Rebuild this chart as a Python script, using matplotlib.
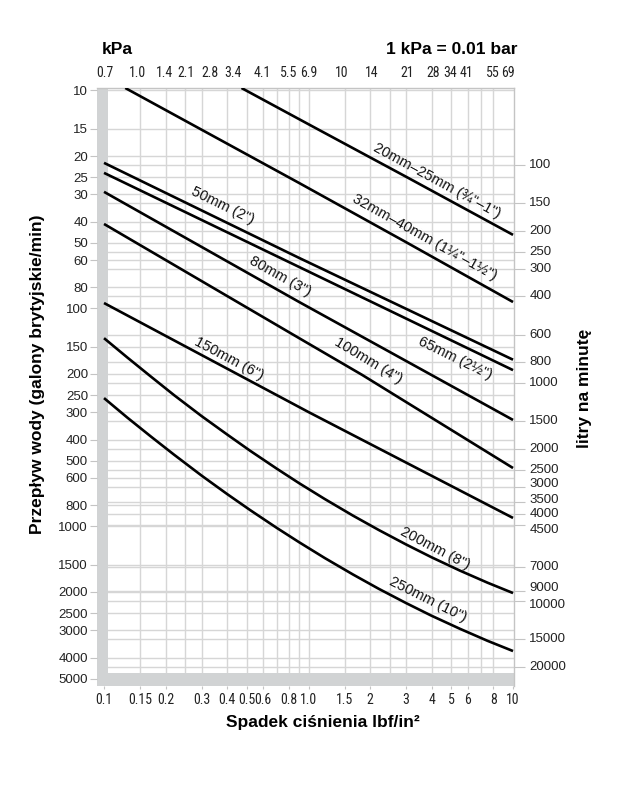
import matplotlib
matplotlib.use("Agg")
import matplotlib.pyplot as plt
from matplotlib import font_manager as fm
from matplotlib.patches import Rectangle
from matplotlib.ticker import NullLocator
from matplotlib.transforms import blended_transform_factory, ScaledTranslation

_names = {f.name for f in fm.fontManager.ttflist}
REG = 'Liberation Sans' if 'Liberation Sans' in _names else 'DejaVu Sans'
plt.rcParams['font.family'] = [REG, 'DejaVu Sans']


def _find_narrow():
    best, best_rank = None, 99
    for f in fm.fontManager.ttflist:
        n, p = f.name.lower(), f.fname.lower()
        if f.style != 'normal' or 'bold' in p or 'italic' in p or 'light' in p \
                or 'semi' in p or 'medium' in p or 'black' in p or 'thin' in p:
            continue
        w = f.weight if isinstance(f.weight, int) else 400
        if w != 400:
            continue
        cond = ('narrow' in n or 'narrow' in p or 'condensed' in n or 'condensed' in p
                or f.stretch in ('condensed', 'semi-condensed'))
        if 'extracondensed' in p or 'extra' in p or 'ultra' in p:
            continue
        if not cond:
            continue
        if 'liberation' in n:
            rank = 0
        elif 'arial' in n:
            rank = 1
        elif 'roboto' in n:
            rank = 2
        elif 'noto sans' in n and 'cjk' not in n and n.startswith('noto sans'):
            rank = 3
        elif 'open sans' in n:
            rank = 4
        elif 'dejavu sans' in n and 'mono' not in n:
            rank = 5
        else:
            rank = 9
        if rank < best_rank:
            best, best_rank = f.fname, rank
    return best, best_rank


_narrow_path, _narrow_rank = _find_narrow()
if _narrow_path is not None and _narrow_rank <= 4:
    NARROW_FP = fm.FontProperties(fname=_narrow_path)
    NARROW_SIZE = 10
else:
    NARROW_FP = fm.FontProperties(family=REG)
    NARROW_SIZE = 8.5

# ---------------- data ----------------
GAL_TO_L = 4.546          # imperial gallon -> litre
PSI_TO_KPA = 6.895

x_ticks = [0.1, 0.15, 0.2, 0.3, 0.4, 0.5, 0.6, 0.8, 1.0, 1.5, 2, 3, 4, 5, 6, 8, 10]
x_tick_labels = ['0.1', '0.15', '0.2', '0.3', '0.4', '0.5', '0.6', '0.8', '1.0',
                 '1.5', '2', '3', '4', '5', '6', '8', '10']
x_grid = [0.15, 0.2, 0.25, 0.3, 0.4, 0.5, 0.6, 0.7, 0.8, 0.9, 1.0,
          1.5, 2, 2.5, 3, 4, 5, 6, 7, 8]
kpa_ticks = [0.7, 1.0, 1.4, 2.1, 2.8, 3.4, 4.1, 5.5, 6.9, 10, 14, 21, 28, 34, 41, 55, 69]
kpa_labels = ['0.7', '1.0', '1.4', '2.1', '2.8', '3.4', '4.1', '5.5', '6.9', '10', '14',
              '21', '28', '34', '41', '55', '69']
gal_ticks = [10, 15, 20, 25, 30, 40, 50, 60, 80, 100, 150, 200, 250, 300, 400, 500,
             600, 800, 1000, 1500, 2000, 2500, 3000, 4000, 5000]
lpm_ticks = [100, 150, 200, 250, 300, 400, 600, 800, 1000, 1500, 2000, 2500, 3000,
             3500, 4000, 4500, 7000, 9000, 10000, 15000, 20000]

# pipe curves: pressure drop (psi) vs flow (gal/min)
psi_20 = [0.47, 1.0, 3.0, 10.0]
q_20 = [9.75, 14.3, 24.9, 46.0]
psi_32 = [0.127, 0.9, 3.0, 10.0]
q_32 = [9.75, 26.6, 49.7, 93.5]
psi_50 = [0.1, 0.9, 10.0]
q_50 = [21.5, 58.7, 172.0]
psi_65 = [0.1, 0.9, 10.0]
q_65 = [23.9, 64.6, 192.0]
psi_80 = [0.1, 0.9, 10.0]
q_80 = [29.2, 93.5, 325.0]
psi_100 = [0.1, 0.9, 1.83, 10.0]
q_100 = [41.0, 137.0, 202.0, 540.0]
psi_150 = [0.1, 1.0, 10.0]
q_150 = [94.5, 299.0, 915.0]
psi_big = [0.1, 0.13, 0.17, 0.22, 0.3, 0.4, 0.52, 0.7, 0.9, 1.2, 1.65, 2.2, 3.0,
           4.0, 5.5, 7.5, 10.0]
q_200 = [137, 168, 206, 250, 312, 379, 451, 544, 634, 749, 893, 1038, 1211,
         1387, 1596, 1813, 2023]
q_250 = [258, 317, 388, 469, 585, 711, 844, 1017, 1183, 1397, 1663, 1932, 2249,
         2572, 2951, 3350, 3733]

series = [
    (psi_20, q_20, '20mm–25mm (¾"–1")', 4.25, 26.0, -28.5),
    (psi_32, q_32, '32mm–40mm (1¼"–1½")', 3.71, 47.0, -29),
    (psi_50, q_50, '50mm (2")', 0.382, 33.9, -26),
    (psi_65, q_65, '65mm (2½")', 5.21, 168.9, -26),
    (psi_80, q_80, '80mm (3")', 0.726, 71.0, -29),
    (psi_100, q_100, '100mm (4")', 1.954, 174.3, -31),
    (psi_150, q_150, '150mm (6")', 0.409, 170.6, -28),
    (psi_big, q_200, '200mm (8")', 4.16, 1256, -27.5),
    (psi_big, q_250, '250mm (10")', 3.84, 2176, -26.5),
]

# small nudges (points) for crowded labels, as spread out in the original
lpm_nudge = {3000: 2.0, 3500: 1.5, 4000: 0.0, 4500: -3.0, 9000: 2.5, 10000: -3.0}
kpa_nudge = {1.4: -1.5, 2.1: -12.0, 2.8: -13.0, 3.4: -9.0, 69: -3.5}

# ---------------- figure ----------------
W, H = 636, 800
fig = plt.figure(figsize=(W / 100, H / 100), dpi=100)
L0, R0, T0, B0 = 97, 514, 88, 686
ax = fig.add_axes([L0 / W, 1 - B0 / H, (R0 - L0) / W, (B0 - T0) / H])
ax.set_xscale('log')
ax.set_yscale('log')
ax.set_xlim(0.0924, 10.11)
ax.set_ylim(5400, 9.75)

strip_w = 11 / (R0 - L0)
strip_h = 13 / (B0 - T0)
grid_c = '#d6d6d6'
for xv in x_grid:
    ax.axvline(xv, ymin=strip_h, ymax=1, color=grid_c, lw=1.0, zorder=0.5)
for gv in gal_ticks:
    ax.axhline(gv, xmin=strip_w, xmax=1, color=grid_c, lw=1.0, zorder=0.5)
for lv in lpm_ticks:
    ax.axhline(lv / GAL_TO_L, xmin=strip_w, xmax=1, color=grid_c, lw=1.0, zorder=0.5)

strip_c = '#d1d3d4'
ax.add_patch(Rectangle((0, 0), strip_w, 1, transform=ax.transAxes, color=strip_c,
                       lw=0, zorder=1))
ax.add_patch(Rectangle((0, 0), 1, strip_h, transform=ax.transAxes, color=strip_c,
                       lw=0, zorder=1))

for xs, ys, lab, lx, ly, rot in series:
    ax.plot(xs, ys, color='black', lw=1.9, solid_capstyle='butt',
            solid_joinstyle='round', zorder=3)
    ax.text(lx, ly, lab, rotation=rot, rotation_mode='anchor', ha='center',
            va='center', fontsize=10.5, color='#111111', zorder=4)

for s in ['left', 'bottom']:
    ax.spines[s].set_visible(False)
for s in ['top', 'right']:
    ax.spines[s].set_color('#c4c4c4')
    ax.spines[s].set_linewidth(1.0)

ax.set_xticks(x_ticks, x_tick_labels)
ax.xaxis.set_minor_locator(NullLocator())
ax.set_yticks(gal_ticks, [str(v) for v in gal_ticks])
ax.yaxis.set_minor_locator(NullLocator())
ax.tick_params(axis='x', length=2, color='#c4c4c4', pad=3, labelcolor='#222222')
for t in ax.get_xticklabels():
    t.set_fontproperties(NARROW_FP)
    t.set_fontsize(NARROW_SIZE)
ax.tick_params(axis='y', length=5, color='#c4c4c4', pad=1.5, labelsize=9.5,
               labelcolor='#222222')

# top kPa scale: labels placed at psi = kPa / 6.895
blend_top = blended_transform_factory(ax.transData, ax.transAxes)
for kv, kl in zip(kpa_ticks, kpa_labels):
    off = ScaledTranslation(kpa_nudge.get(kv, 0.0) / 72, 11 / 72, fig.dpi_scale_trans)
    ax.text(kv / PSI_TO_KPA, 1.0, kl, transform=blend_top + off, ha='center',
            va='center', fontproperties=NARROW_FP, fontsize=NARROW_SIZE,
            color='#222222', clip_on=False)

# right litres axis: tick marks from the axis, labels as texts
right = ax.secondary_yaxis('right', functions=(lambda g: g * GAL_TO_L,
                                               lambda l: l / GAL_TO_L))
right.set_yticks(lpm_ticks, [''] * len(lpm_ticks))
right.yaxis.set_minor_locator(NullLocator())
right.tick_params(axis='y', length=8, color='#c4c4c4', pad=2)
right.spines['right'].set_visible(False)
blend = blended_transform_factory(ax.transAxes, ax.transData)
for lv in lpm_ticks:
    off = ScaledTranslation(11 / 72, lpm_nudge.get(lv, 0.0) / 72, fig.dpi_scale_trans)
    ax.text(1.0, lv / GAL_TO_L, str(lv), transform=blend + off, ha='left',
            va='center', fontsize=9.5, color='#222222', clip_on=False)

# titles / axis labels
fig.text(38 / W, 1 - 374 / H, 'Przepływ wody (galony brytyjskie/min)', rotation=90,
         ha='center', va='center', fontsize=12.5, fontweight='bold')
fig.text(585 / W, 1 - 388 / H, 'litry na minutę', rotation=90,
         ha='center', va='center', fontsize=12.5, fontweight='bold')
fig.text(323 / W, 1 - 723 / H, 'Spadek ciśnienia lbf/in²',
         ha='center', va='center', fontsize=12.5, fontweight='bold')
fig.text(102 / W, 1 - 50 / H, 'kPa', ha='left', va='center', fontsize=12.5,
         fontweight='bold')
fig.text(517 / W, 1 - 50 / H, '1 kPa = 0.01 bar', ha='right', va='center',
         fontsize=12.5, fontweight='bold')

fig.savefig('out.png', dpi=100, facecolor='white')
